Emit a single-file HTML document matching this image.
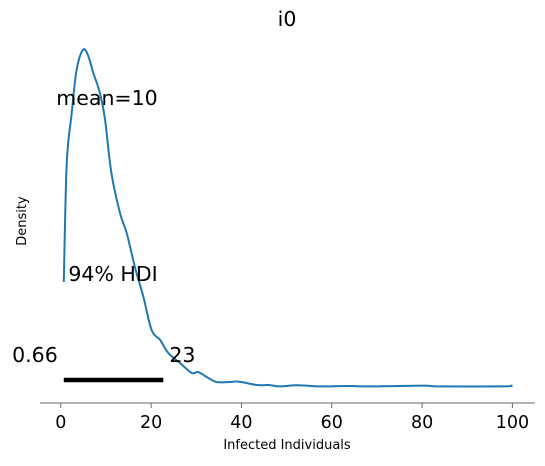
<!DOCTYPE html>
<html><head><meta charset="utf-8"><style>
body{margin:0;background:#fff}
svg{font-family:"DejaVu Sans","Liberation Sans",sans-serif}
</style></head><body>
<svg id="chart" width="545" height="461">
<text x="287" y="26" font-size="20.5" text-anchor="middle">i0</text>
<text transform="translate(26,221) rotate(-90)" font-size="13" text-anchor="middle">Density</text>
<text x="287" y="449" font-size="13" text-anchor="middle">Infected Individuals</text>
<line x1="40" y1="403" x2="535" y2="403" stroke="#666" stroke-width="1"/>
<g id="ticks"></g>
<path id="kde" fill="none" stroke="#1f77b4" stroke-width="2"/>
<line id="hdi" stroke="#000" stroke-width="4.5"/>
<text id="hdiLo" font-size="20.5" text-anchor="end"></text>
<text id="hdiHi" font-size="20.5"></text>
<text x="107" y="105" font-size="20.5" text-anchor="middle">mean=10</text>
<text x="113" y="281" font-size="20.5" text-anchor="middle">94% HDI</text>
</svg>
<script>
const xs=[0.66,1.3,2.4,3.5,4.9,6.0,7.2,8.6,9.8,11.2,13.1,14.6,16.4,18.3,20.1,22,23.8,26.4,29,30.4,32.3,34.5,37.5,39.4,43.4,46,48.6,52.3,57.4,63.5,69.4,80.5,83.6,98,100];
const dens=[0.026,0.0555,0.068,0.079,0.084,0.08275,0.07825,0.0735,0.0665,0.05325,0.04325,0.03825,0.02975,0.02225,0.014,0.0115,0.00825,0.00575,0.00325,0.0035,0.00225,0.001,0.001,0.0011,0.00025,0.00025,-0.0001,0.0002,-0.0001,0,-0.0001,0.0001,-0.0001,-0.0001,0.0002];
const ticks=[0,20,40,60,80,100];
const hdiLow=0.66, hdiHigh=22.7;
const hdiLabels=["0.66","23"];
const X=v=>60.8+v*4.516;
const Y=d=>386-d*4000;
const ns="http://www.w3.org/2000/svg";
const P=xs.map((x,i)=>[X(x),Y(dens[i])]);
let d='M'+P[0][0].toFixed(1)+','+P[0][1].toFixed(1);
for(let i=0;i<P.length-1;i++){
 const p0=P[Math.max(0,i-1)],p1=P[i],p2=P[i+1],p3=P[Math.min(P.length-1,i+2)];
 const c1=[p1[0]+(p2[0]-p0[0])/6,p1[1]+(p2[1]-p0[1])/6];
 const c2=[p2[0]-(p3[0]-p1[0])/6,p2[1]-(p3[1]-p1[1])/6];
 d+='C'+c1.map(v=>v.toFixed(1))+' '+c2.map(v=>v.toFixed(1))+' '+p2.map(v=>v.toFixed(1));
}
document.getElementById('kde').setAttribute('d',d);
const g=document.getElementById('ticks');
ticks.forEach(t=>{
 const l=document.createElementNS(ns,'line');
 l.setAttribute('x1',X(t));l.setAttribute('x2',X(t));l.setAttribute('y1',403);l.setAttribute('y2',408);l.setAttribute('stroke','#666');
 
 
 g.appendChild(l);
 const tx=document.createElementNS(ns,'text');
 tx.setAttribute('x',X(t));tx.setAttribute('y',428);tx.setAttribute('font-size','17.5');tx.setAttribute('text-anchor','middle');
 tx.textContent=t;
 
 
 g.appendChild(tx);
});
const h=document.getElementById('hdi');
h.setAttribute('x1',X(hdiLow));h.setAttribute('x2',X(hdiHigh));h.setAttribute('y1',380);h.setAttribute('y2',380);
const lo=document.getElementById('hdiLo');lo.setAttribute('x',X(hdiLow)-6);lo.setAttribute('y',362);lo.textContent=hdiLabels[0];
const hi=document.getElementById('hdiHi');hi.setAttribute('x',X(hdiHigh)+6);hi.setAttribute('y',362);hi.textContent=hdiLabels[1];
</script>
</body></html>
